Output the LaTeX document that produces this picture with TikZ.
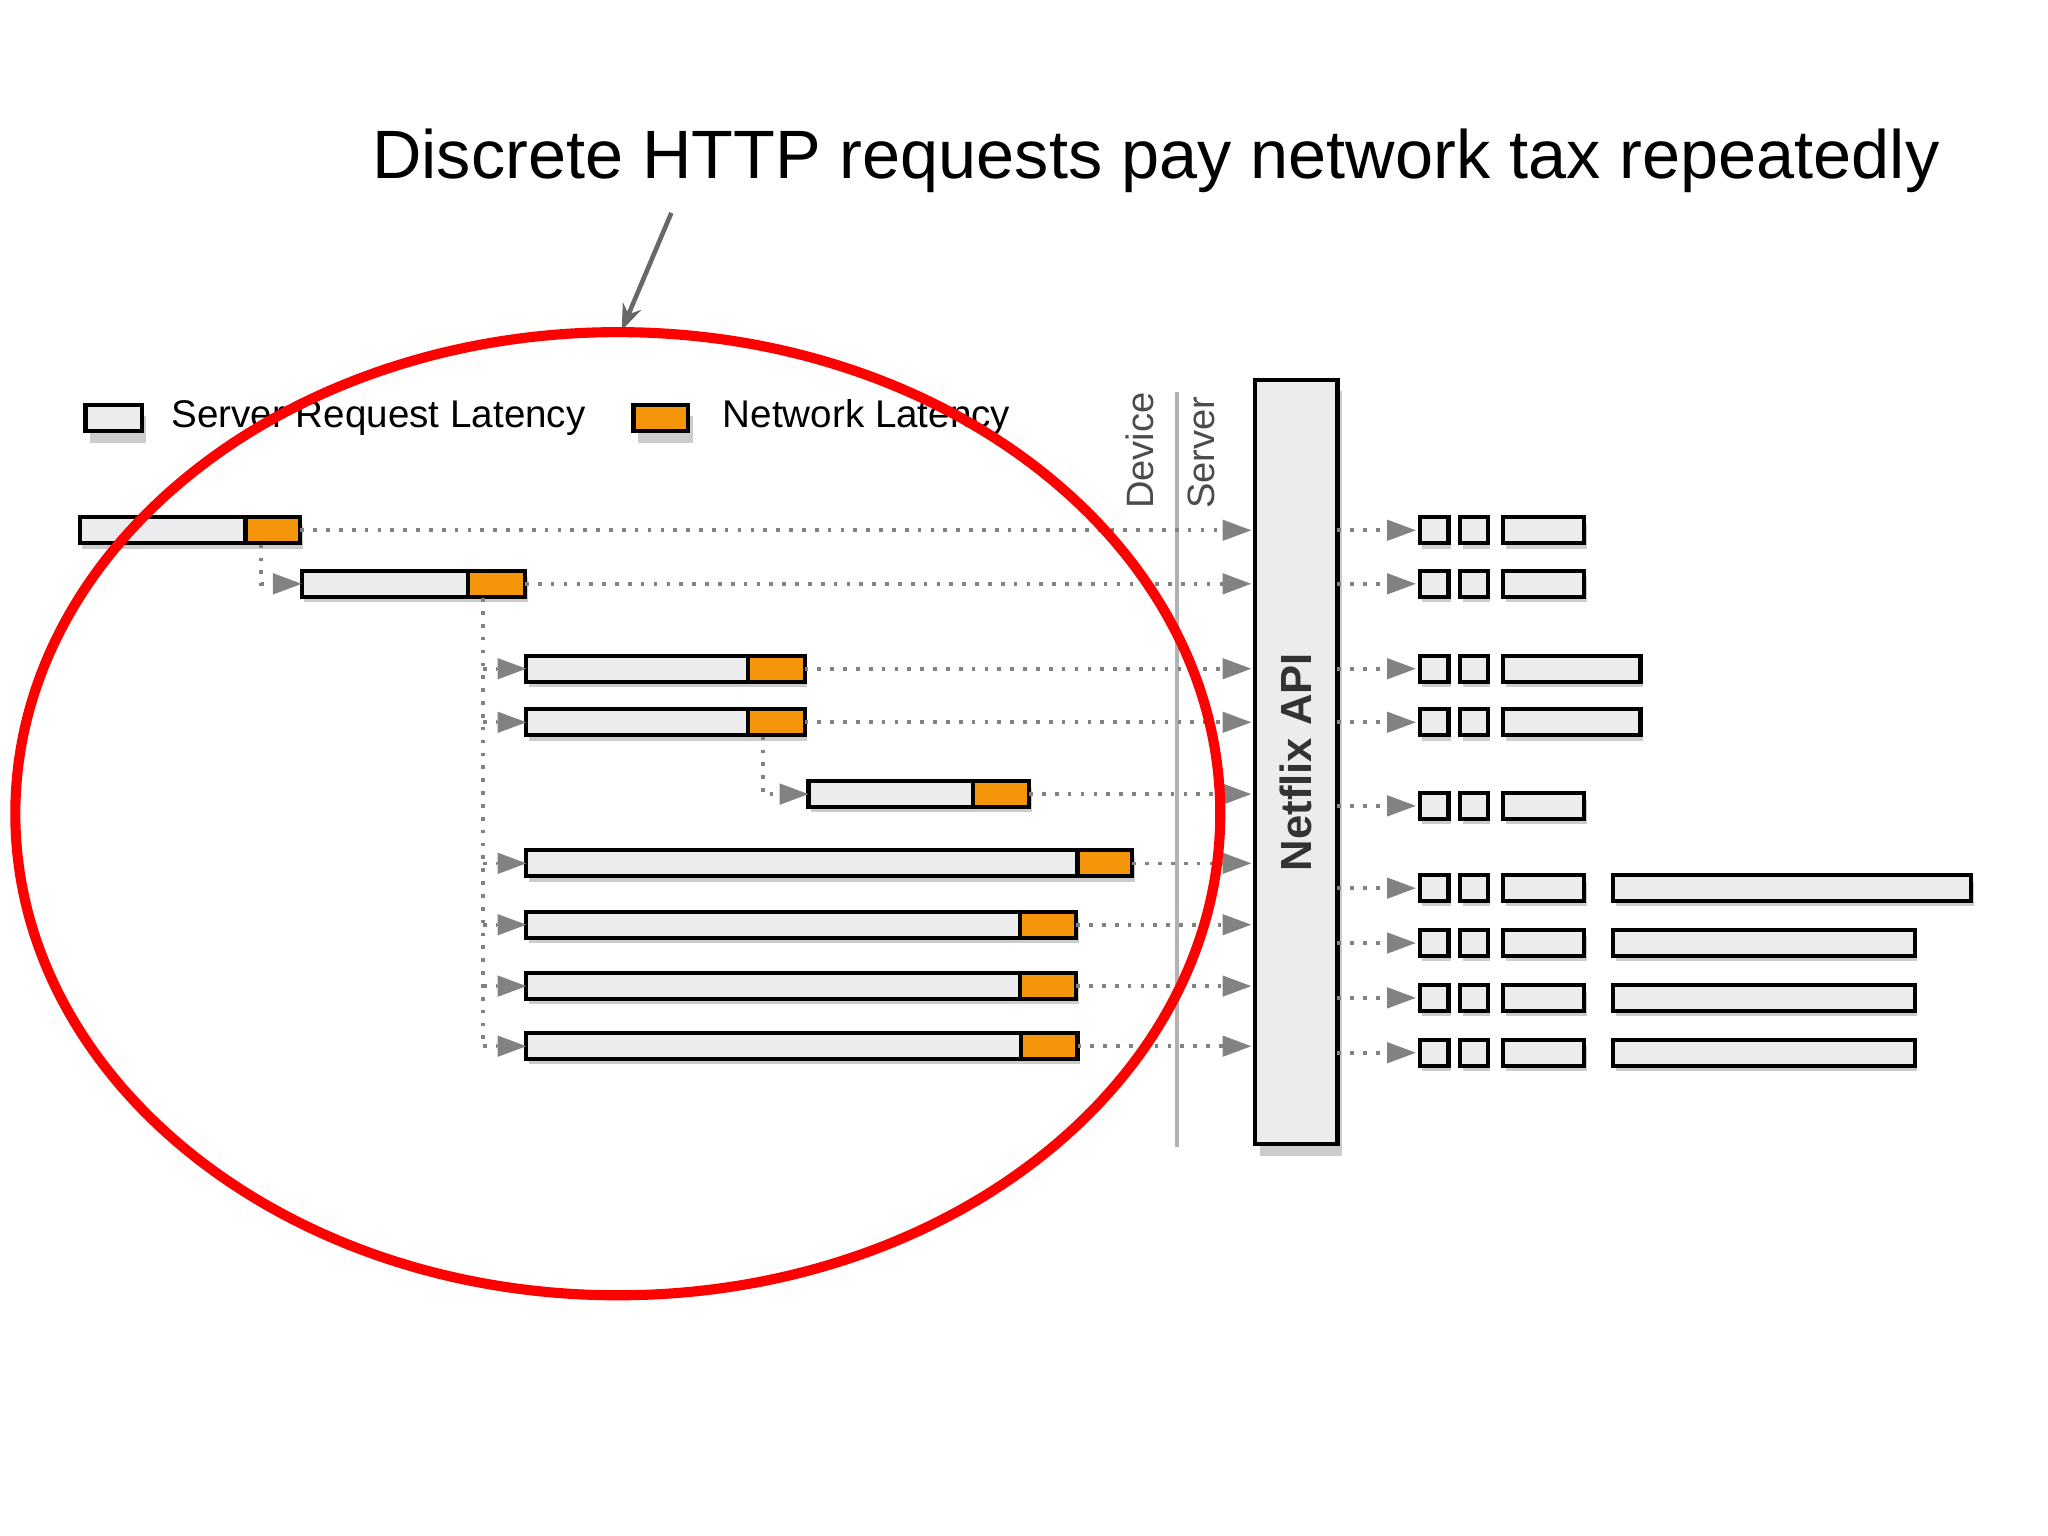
\documentclass[tikz,border=0pt]{standalone}
\usepackage{fontspec}
\setmainfont{Liberation Sans}
\usetikzlibrary{arrows.meta,shadows,shapes.geometric}
\definecolor{barg}{RGB}{236,236,238}
\definecolor{orng}{RGB}{245,150,10}
\definecolor{arrg}{RGB}{130,130,130}
\tikzset{
  sh/.style={drop shadow={shadow xshift=1pt,shadow yshift=-2.5pt,fill=black,opacity=0.2}},
  gbar/.style={draw=black,line width=0.9pt,fill=barg},
  obar/.style={draw=black,line width=0.9pt,fill=orng},
  dotln/.style={draw=arrg,line width=0.8pt,dotted},
  tip/.style={-{Triangle[length=0.22cm,width=0.16cm]},arrg},
}
\begin{document}
\begin{tikzpicture}[x=0.01cm,y=-0.01cm]
\useasboundingbox (0,0) rectangle (1568,1176);
\node[font=\fontsize{14.9}{18}\selectfont] (title) at (885,123) {Discrete HTTP requests pay network tax repeatedly};
\coordinate (pa) at (514,163); \coordinate (pb) at (476,253);
\draw[-{Stealth[length=0.2cm]},arrg!80!black,line width=1pt] (pa) -- (pb);
% legend
\node[gbar,sh,minimum width=0.43cm,minimum height=0.2cm,inner sep=0] (lg) at (87,320) {};
\node[anchor=west,font=\fontsize{8.4}{10}\selectfont] (lgt) at (119,320) {Server Request Latency};
\node[obar,sh,minimum width=0.42cm,minimum height=0.2cm,inner sep=0] (lo) at (506,320) {};
\node[anchor=west,font=\fontsize{8.4}{10}\selectfont] (lot) at (541,320) {Network Latency};
% device/server
\node[rotate=90,anchor=west,font=\fontsize{8.3}{10}\selectfont,text=black!70] (dev) at (873,402) {Device};
\node[rotate=90,anchor=west,font=\fontsize{8.3}{10}\selectfont,text=black!70] (srv) at (920,402) {Server};
\coordinate (vt) at (901,300); \coordinate (vb) at (901,878);
\draw[black!30,line width=0.8pt] (vt) -- (vb);
% API
\node[gbar,sh,minimum width=0.63cm,minimum height=5.85cm,inner sep=0] (api) at (992.5,583.5) {};
\node[rotate=90,font=\bfseries\fontsize{9.5}{11}\selectfont,text=black!80] (apit) at (992.5,583.5) {Netflix API};
% left bars: x0 xg x1 y
\foreach \i/\xa/\xg/\xb/\y in {1/61/188/230/406,2/231/358/402/447,3/403/573/616/512,4/403/573/616/553,5/619/745/788/608,6/403/825/867/661,7/403/781/824/708,8/403/781/824/755,9/403/782/825/801}{
  \fill[black,opacity=0.2] (\xa+2,\y-5) rectangle (\xb+2,\y+14);
  \draw[gbar] (\xa,\y-10) rectangle (\xg,\y+10);
  \draw[obar] (\xg,\y-10) rectangle (\xb,\y+10);
  \coordinate (e\i) at (\xb,\y);
  \coordinate (s\i) at (\xa,\y);
  \coordinate (t\i) at (958,\y);
  \draw[dotln] (e\i) -- (936,\y);
  \draw[tip] (936,\y) -- (t\i);
}
% tree connectors
\coordinate (c1) at (200,417);
\draw[dotln] (c1) |- (209,447);
\draw[tip] (209,447) -- (s2);
\coordinate (c2) at (370,458);
\draw[dotln] (c2) -- (370,801);
\foreach \j/\y in {3/512,4/553,6/661,7/708,8/755,9/801}{
  \draw[dotln] (370,\y) -- (380,\y);
  \draw[tip] (380,\y) -- (s\j);
}
\coordinate (c4) at (584,564);
\draw[dotln] (c4) |- (597,608);
\draw[tip] (597,608) -- (s5);
% right side
\foreach \k/\y/\w/\l in {1/406/1213/0,2/447/1213/0,3/512/1256/0,4/553/1256/0,5/617/1213/0,6/680/1213/1509,7/722/1213/1466,8/764/1213/1466,9/806/1213/1466}{
  \coordinate (r\k) at (1024,\y);
  \coordinate (h\k) at (1084,\y);
  \draw[dotln] (r\k) -- (1062,\y);
  \draw[tip] (1062,\y) -- (h\k);
  \fill[black,opacity=0.2] (1089,\y-5) rectangle (1111,\y+14);
  \fill[black,opacity=0.2] (1120,\y-5) rectangle (1141,\y+14);
  \fill[black,opacity=0.2] (1153,\y-5) rectangle (\w+2,\y+14);
  \draw[gbar] (1087,\y-10) rectangle (1109,\y+10);
  \draw[gbar] (1118,\y-10) rectangle (1139,\y+10);
  \draw[gbar] (1151,\y-10) rectangle (\w,\y+10);
  \ifnum\l>0
    \fill[black,opacity=0.2] (1237,\y-5) rectangle (\l+2,\y+14);
    \draw[gbar] (1235,\y-10) rectangle (\l,\y+10);
  \fi
}
% red ellipse
\node[draw=red,line width=2.2pt,ellipse,minimum width=9.22cm,minimum height=7.37cm,inner sep=0] (ell) at (473,623) {};
\end{tikzpicture}
\end{document}
